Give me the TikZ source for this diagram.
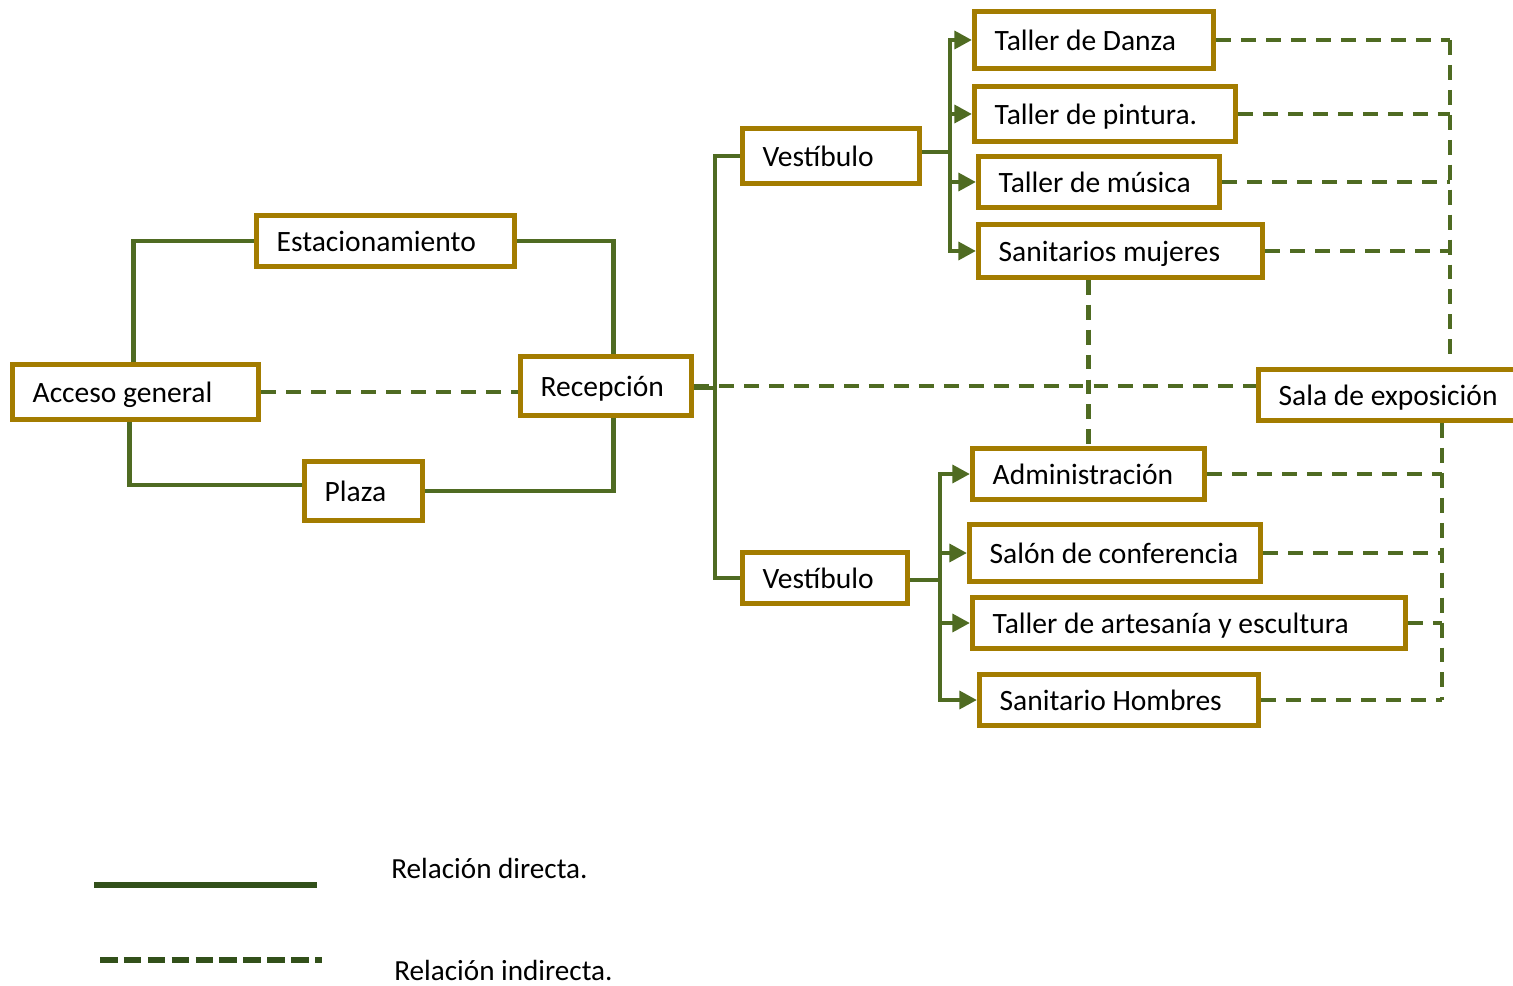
\documentclass[tikz,border=0pt]{standalone}
\usepackage{fontspec}
\setmainfont{Carlito}
\usetikzlibrary{arrows.meta,positioning}
\definecolor{borde}{RGB}{163,124,0}
\definecolor{verde}{RGB}{79,107,34}
\definecolor{verdeOsc}{RGB}{50,80,26}
\tikzset{
  caja/.style={draw=borde, line width=2.8pt, fill=white, anchor=west, align=flush left,
    inner xsep=11.5pt, inner ysep=0pt, text height=1.25em, text depth=-0.2em,
    font=\fontsize{16.8}{20}\selectfont},
  directo/.style={draw=verde, line width=2.8pt},
  indirecto/.style={draw=verde, line width=2.5pt, dash pattern=on 8.5pt off 5.7pt},
  flecha/.style={directo, -{Triangle[length=10pt,width=10pt]}},
  leyenda/.style={anchor=west, inner sep=0pt, font=\fontsize{16.6}{20}\selectfont}
}
\begin{document}
\begin{tikzpicture}[x=0.02cm,y=-0.02cm]
\useasboundingbox (0,0) rectangle (1513,986);
\node[caja, text width=4.12cm, minimum height=1.09cm] (acceso) at (10,392) {Acceso general};
\node[caja, text width=4.36cm, minimum height=1.01cm] (estac) at (254,241) {Estacionamiento};
\node[caja, text width=1.56cm, minimum height=1.19cm] (plaza) at (302,491) {Plaza};
\node[caja, text width=2.62cm, minimum height=1.17cm] (recep) at (518,386) {Recepción};
\node[caja, text width=2.74cm, minimum height=1.11cm] (vestA) at (740,156) {Vestíbulo};
\node[caja, text width=2.50cm, minimum height=1.01cm] (vestB) at (740,578) {Vestíbulo};
\node[caja, text width=3.98cm, minimum height=1.13cm] (danza) at (972,40) {Taller de Danza};
\node[caja, text width=4.42cm, minimum height=1.09cm] (pintura) at (972,114) {Taller de pintura.};
\node[caja, text width=4.02cm, minimum height=1.01cm] (musica) at (976,182) {Taller de música};
\node[caja, text width=4.88cm, minimum height=1.05cm] (sanm) at (976,251) {Sanitarios mujeres};
\node[caja, text width=4.52cm, minimum height=1.03cm] (sala) at (1256,395) {Sala de exposición};
\node[caja, text width=3.84cm, minimum height=1.01cm] (admin) at (970,474) {Administración};
\node[caja, text width=5.02cm, minimum height=1.13cm] (salon) at (967,553) {Salón de conferencia};
\node[caja, text width=7.86cm, minimum height=1.03cm] (artes) at (970,623) {Taller de artesanía y escultura};
\node[caja, text width=4.78cm, minimum height=1.01cm] (sanh) at (977,700) {Sanitario Hombres};

\coordinate (tronco) at (715,388);
\coordinate (hubA) at (950,152);
\coordinate (hubB) at (940,580);
\coordinate (busN) at (1450,360);
\coordinate (busS) at (1442,423);

\draw[directo] ([xshift=-0.04cm]acceso.north) |- (estac.west);
\draw[directo] (estac.east) -| ([xshift=0.14cm]recep.north);
\draw[directo] ([xshift=-0.12cm]acceso.south) |- ([yshift=0.12cm]plaza.west);
\draw[directo] (plaza.east) -| ([xshift=0.14cm]recep.south);
\draw[directo] (recep.east |- tronco) -- (tronco);
\draw[directo] (tronco) |- (vestA.west);
\draw[directo] (tronco) |- (vestB.west);
\draw[directo] (vestA.east |- hubA) -- (hubA);
\draw[directo] (vestB.east |- hubB) -- (hubB);
\foreach \n in {danza,pintura,musica,sanm}
  \draw[flecha] (hubA) |- (\n.west);
\foreach \n in {admin,salon,artes,sanh}
  \draw[flecha] (hubB) |- (\n.west);

\draw[indirecto] (acceso.east) -- (acceso.east -| recep.west);
\draw[indirecto] (recep.east) -- (recep.east -| sala.west);
\draw[indirecto] (sanm.south -| admin.north) -- (admin.north);
\foreach \n in {danza,pintura,musica,sanm}
  \draw[indirecto] (\n.east) -- (\n.east -| busN);
\draw[indirecto] (danza.east -| busN) -- (busN);
\foreach \n in {admin,salon,artes,sanh}
  \draw[indirecto] (\n.east) -- (\n.east -| busS);
\draw[indirecto] (busS) -- (sanh.east -| busS);

\coordinate (ld1) at (94,885);
\coordinate (ld2) at (317,885);
\coordinate (li1) at (100,960);
\coordinate (li2) at (322,960);
\draw[verdeOsc, line width=3.3pt] (ld1) -- (ld2);
\draw[verdeOsc, line width=3.3pt, dash pattern=on 10pt off 3.6pt] (li1) -- (li2);
\node[leyenda] (leyDir) at (391,868) {Relación directa.};
\node[leyenda] (leyInd) at (394,970) {Relación indirecta.};
\end{tikzpicture}
\end{document}
